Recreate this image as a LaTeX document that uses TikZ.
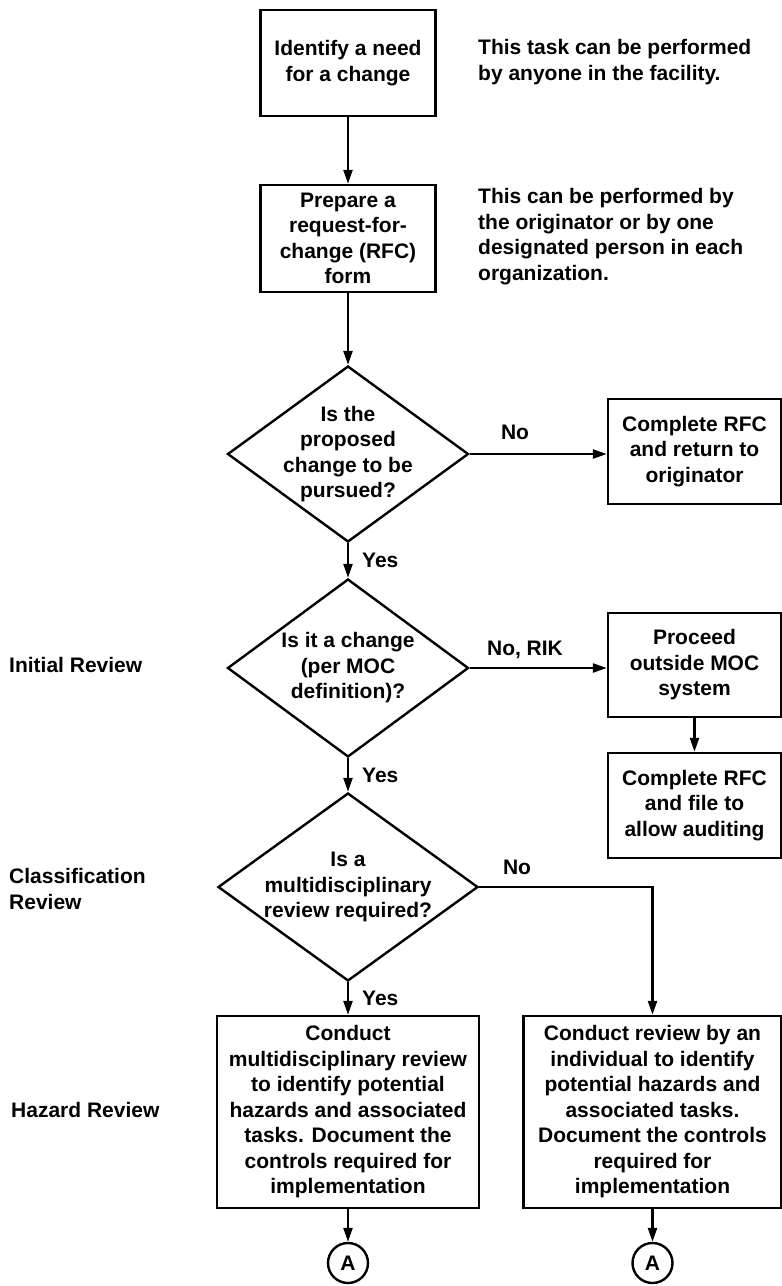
\documentclass[tikz,border=0pt]{standalone}
\usepackage{fontspec}
\setmainfont{Liberation Sans}
\usepackage{tikz}
\usetikzlibrary{arrows.meta,
                calc,
                positioning,
                shapes.geometric}

\tikzset{
  stepbox/.style={draw, align=center, inner sep=0pt},
  ask/.style={draw, diamond, inner sep=0pt},
  asktext/.style={align=center, inner sep=0pt},
  tag/.style={inner sep=0pt, align=left},
  joint/.style={draw, circle, minimum size=40pt, inner sep=0pt}
}

\begin{document}
\begin{tikzpicture}[x=1pt, y=-1pt, line width=2.4pt,
  >={Triangle[length=14pt,width=9pt]},
  font=\bfseries\fontsize{21}{25.5}\selectfont]
\useasboundingbox (0,0) rectangle (782,1286);

% main column
\node[stepbox, minimum width=175pt, minimum height=106pt] (need) at (348,63) {Identify a need\\for a change};
\node[stepbox, minimum width=175pt, minimum height=107pt] (rfc) at (348,238.5) {Prepare a\\request-for-\\change (RFC)\\form};
\node[ask, minimum width=241pt, minimum height=176pt,
      label={[asktext]center:{Is the\\proposed\\change to be\\pursued?}}] (pursue) at (348,454) {};
\node[ask, minimum width=241pt, minimum height=178pt,
      label={[asktext]center:{Is it a change\\(per MOC\\definition)?}}] (ischange) at (348,668) {};
\node[ask, minimum width=260pt, minimum height=188pt,
      label={[asktext]center:{Is a\\multidisciplinary\\review required?}}] (multi) at (348,887) {};
\node[stepbox, minimum width=262pt, minimum height=192pt] (team) at (348,1112) {Conduct\\multidisciplinary review\\to identify potential\\hazards and associated\\tasks. Document the\\controls required for\\implementation};
\node[joint] (goA) at (348,1263) {A};

% right column
\node[stepbox, minimum width=173pt, minimum height=105pt] (back) at (694.5,451.5) {Complete RFC\\and return to\\originator};
\node[stepbox, minimum width=173pt, minimum height=104pt] (outside) at (694.5,665) {Proceed\\outside MOC\\system};
\node[stepbox, minimum width=173pt, minimum height=105pt] (file) at (694.5,805.5) {Complete RFC\\and file to\\allow auditing};
\node[stepbox, minimum width=258pt, minimum height=192pt] (single) at (652.5,1112) {Conduct review by an\\individual to identify\\potential hazards and\\associated tasks.\\Document the controls\\required for\\implementation};
\node[joint] (goB) at (652.5,1263) {A};

% notes and stages
\node[tag, anchor=west] (anyone) at (477,62) {This task can be performed\\by anyone in the facility.};
\node[tag, anchor=west] (whoever) at (477,236.5) {This can be performed by\\the originator or by one\\designated person in each\\organization.};
\node[tag, anchor=west] (initial) at (8,665) {Initial Review};
\node[tag, anchor=west] (classif) at (8,889) {Classification\\Review};
\node[tag, anchor=west] (hazard) at (10,1110) {Hazard Review};

% connectors
\foreach \a/\b in {need/rfc, rfc/pursue, outside/file, team/goA, single/goB}
  \draw[->] (\a) -- (\b);
\foreach \a/\b/\n in {pursue/ischange/yes1, ischange/multi/yes2, multi/team/yes3}
  \draw[->] (\a) -- node[right=13pt, inner sep=0pt, name=\n] {Yes} (\b);

\draw[->] (pursue.east) -- (pursue.east -| back.west);
\draw[->] (ischange.east) -- (ischange.east -| outside.west);
\draw[->] (multi.east) -| (single.north);

\node (no1) at (515,432) {No};
\node (no2) at (525,650) {No, RIK};
\node (no3) at (517,867) {No};
\end{tikzpicture}
\end{document}
